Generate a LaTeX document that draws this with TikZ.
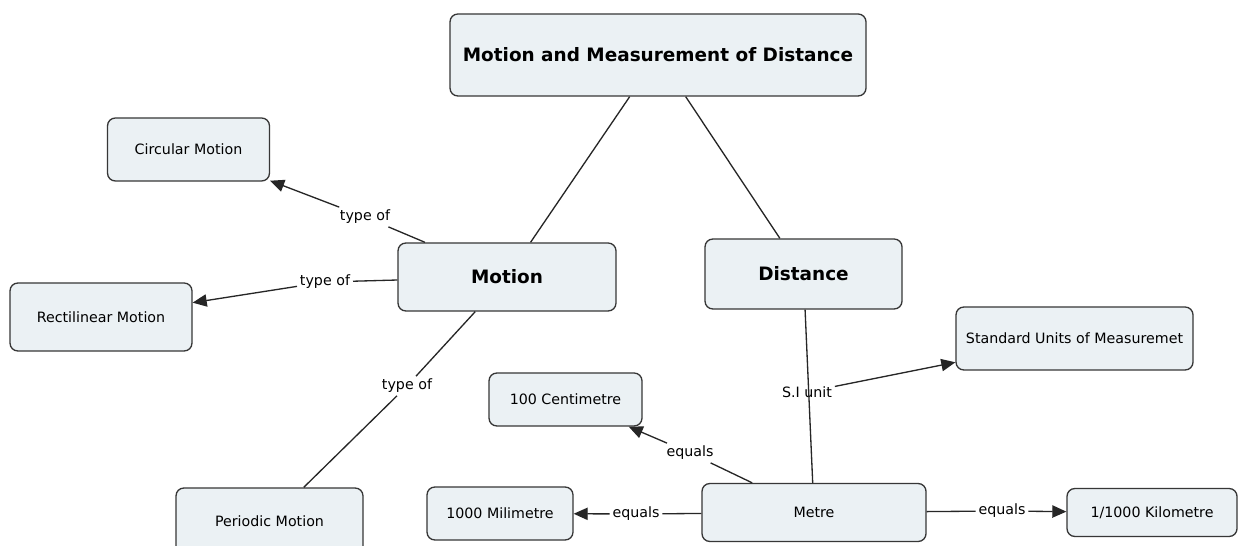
\documentclass[tikz,border=0pt]{standalone}
\usepackage{fontspec}
\setmainfont{DejaVu Sans}
\usetikzlibrary{arrows.meta}
\definecolor{cfill}{RGB}{235,241,244}
\definecolor{cline}{RGB}{55,55,55}
\newcommand{\pu}{0.02cm}

\begin{document}
\begin{tikzpicture}[x=0.02cm,y=-0.02cm,
    cpt/.style={rectangle,rounded corners=4.5pt,draw=cline,fill=cfill,
                line width=0.75pt,font=\fontsize{8.1}{10}\selectfont,inner sep=2pt},
    key/.style={cpt,font=\fontsize{10.5}{12}\selectfont\bfseries},
    lbl/.style={font=\fontsize{8.1}{10}\selectfont,inner sep=1.5pt},
    ln/.style={line width=0.75pt,black!85},
    arr/.style={ln,-{Triangle[length=8pt,width=7pt]}}]

    \clip (0,0) rectangle (1246,546);
    \fill[white] (0,0) rectangle (1246,546);

    % concepts
    \node[key,minimum width=416*\pu,minimum height=82*\pu] (title) at (658,55) {Motion and Measurement of Distance};
    \node[key,minimum width=218*\pu,minimum height=68*\pu] (motion) at (507,277) {Motion};
    \node[key,minimum width=197*\pu,minimum height=70*\pu] (dist) at (803.5,274) {Distance};
    \node[cpt,minimum width=162*\pu,minimum height=63*\pu] (circ) at (188.5,149.5) {Circular Motion};
    \node[cpt,minimum width=182*\pu,minimum height=68*\pu] (rect) at (101,317) {Rectilinear Motion};
    \node[cpt,minimum width=187*\pu,minimum height=66*\pu] (peri) at (269.5,521) {Periodic Motion};
    \node[cpt,minimum width=237*\pu,minimum height=63*\pu] (std) at (1074.5,338.5) {Standard Units of Measuremet};
    \node[cpt,minimum width=153*\pu,minimum height=53*\pu] (cent) at (565.5,399.5) {100 Centimetre};
    \node[cpt,minimum width=146*\pu,minimum height=53*\pu] (mili) at (500,513.5) {1000 Milimetre};
    \node[cpt,minimum width=224*\pu,minimum height=58*\pu] (metre) at (814,512.5) {Metre};
    \node[cpt,minimum width=170*\pu,minimum height=48*\pu] (kilo) at (1152,512.5) {1/1000 Kilometre};

    % linking phrases
    \node[lbl] (t1) at (365,217) {type of};
    \node[lbl] (t2) at (325,282) {type of};
    \node[lbl] (t3) at (407,386) {type of};
    \node[lbl] (si) at (807,392) {S.I unit};
    \node[lbl] (e1) at (690,453) {equals};
    \node[lbl] (e2) at (636,514) {equals};
    \node[lbl] (e3) at (1002,511) {equals};

    % links
    \draw[ln] (title) -- (motion);
    \draw[ln] (title) -- (dist);
    \draw[ln] (motion) -- (t1); \draw[arr] (t1) -- (circ);
    \draw[ln] (motion) -- (t2); \draw[arr] (t2) -- (rect);
    \draw[ln] (motion) -- (t3); \draw[ln] (t3) -- (peri);
    \draw[ln] (dist) -- (metre); \draw[arr] (si) -- (std);
    \draw[ln] (metre) -- (e1); \draw[arr] (e1) -- (cent);
    \draw[ln] (metre) -- (e2); \draw[arr] (e2) -- (mili);
    \draw[ln] (metre) -- (e3); \draw[arr] (e3) -- (kilo);
\end{tikzpicture}
\end{document}
